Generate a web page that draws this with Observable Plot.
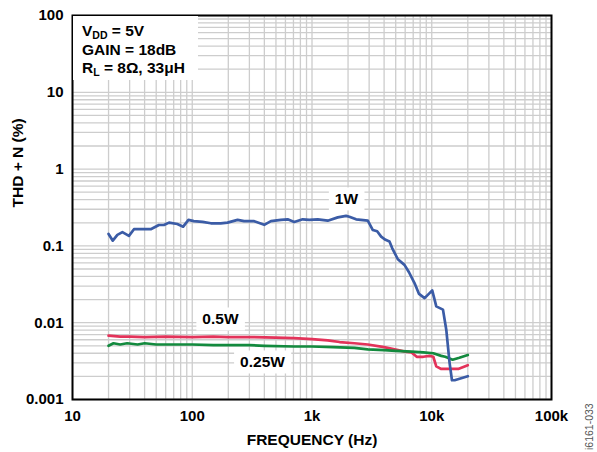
<!DOCTYPE html>
<html><head><meta charset="utf-8">
<script src="https://cdn.jsdelivr.net/npm/d3@7"></script>
<script src="https://cdn.jsdelivr.net/npm/@observablehq/plot@0.6"></script>
<style>
body{margin:0;background:#fff;}
#chart{width:597px;height:452px;}
</style></head><body><div id="chart"></div>
<script>
// ---- data ----
const freq1W = [20,21.7,23.7,26.1,29.6,32.6,45,52.7,58,64,75,84,93,103,122,143,173,197,239,271,329,399,454,550,626,711,836,949,1117,1353,1641,1926,2050,2334,2924,3221,3500,3780,4110,4436,4680,5212,5918,6456,7178,7830,8710,9590,10090,10910,12410,13220,14090,14750,15520,20000];
const thd1W  = [0.143,0.117,0.139,0.151,0.135,0.165,0.165,0.187,0.187,0.201,0.193,0.178,0.218,0.21,0.205,0.197,0.197,0.201,0.218,0.21,0.21,0.188,0.21,0.218,0.222,0.205,0.222,0.218,0.222,0.213,0.235,0.246,0.24,0.222,0.213,0.161,0.155,0.132,0.12,0.114,0.093,0.067,0.0566,0.0454,0.0328,0.0237,0.0209,0.0243,0.0263,0.0163,0.0148,0.0081,0.0030,0.00178,0.00178,0.00201];

const freqHalfW = [20,25,30,40,60,100,150,200,300,500,711,1000,1353,1700,2259,2924,4000,4887,6000,6780,7490,8500,9590,10300,10910,12000,13620,16630,20000];
const thdHalfW  = [0.0068,0.0066,0.0066,0.0065,0.0066,0.0065,0.0066,0.0065,0.0065,0.0064,0.0063,0.0061,0.0059,0.0056,0.0054,0.0052,0.0048,0.0045,0.0042,0.0041,0.0036,0.0036,0.0037,0.0036,0.0027,0.0025,0.0025,0.0025,0.0028];

const freqQuarterW = [20,22,25,28.6,35,40,50,70,100,150,200,300,400,711,1000,1500,2259,2924,4000,5000,6780,8500,10300,12000,12970,14930,17000,20000];
const thdQuarterW  = [0.0050,0.0054,0.0052,0.0054,0.0052,0.0054,0.0052,0.0052,0.0052,0.0051,0.0051,0.0051,0.0050,0.0049,0.0049,0.0048,0.0047,0.0045,0.0044,0.0043,0.0042,0.0041,0.0040,0.0037,0.0036,0.0033,0.0035,0.0038];

const seriesNames  = ["1W","0.5W","0.25W"];
const seriesColors = ["#3b5ca6","#e3335a","#138a3e"];
const labelFreq = [1941,172,386];
const labelThd  = [0.402,0.0110,0.00303];

const xTicks = [10,100,1000,10000,100000];
const xTickLabels = ["10","100","1k","10k","100k"];
const yTicks = [0.001,0.01,0.1,1,10,100];
const yTickLabels = ["0.001","0.01","0.1","1","10","100"];
const xTitle = "FREQUENCY (Hz)";
const yTitle = "THD + N (%)";
const figId = "i6161-033";

// ---- build table ----
const rows = [
  ...freq1W.map((f,i)=>({f, v:thd1W[i], s:seriesNames[0]})),
  ...freqHalfW.map((f,i)=>({f, v:thdHalfW[i], s:seriesNames[1]})),
  ...freqQuarterW.map((f,i)=>({f, v:thdQuarterW[i], s:seriesNames[2]}))
];
const labels = seriesNames.map((s,i)=>({s, f:labelFreq[i], v:labelThd[i]}));

// minor grid positions (1..9 per decade)
const gridX = [], gridY = [];
for (let e=1;e<5;e++) for (let k=1;k<10;k++) gridX.push(k*10**e);
gridX.push(1e5);
for (let e=-3;e<2;e++) for (let k=1;k<10;k++) gridY.push(k*10**e);
gridY.push(100);

const FONT = "'Liberation Sans', Arial, Helvetica, sans-serif";
const plot = Plot.plot({
  width:597, height:452,
  marginLeft:72, marginRight:46, marginTop:15, marginBottom:53,
  style:{fontFamily:FONT, fontSize:"15px", fontWeight:"bold", color:"#000", background:"#fff", overflow:"visible"},
  x:{type:"log", domain:[10,1e5], ticks:xTicks, tickFormat:d=>xTickLabels[xTicks.indexOf(d)], tickSize:0, tickPadding:11, label:null},
  y:{type:"log", domain:[0.001,100], ticks:yTicks, tickFormat:d=>yTickLabels[yTicks.findIndex(t=>Math.abs(t-d)/t<1e-6)], tickSize:0, tickPadding:9, label:null},
  color:{domain:seriesNames, range:seriesColors},
  marks:[
    Plot.ruleX(gridX, {stroke:"#cdcdcd", strokeWidth:1.3}),
    Plot.ruleY(gridY, {stroke:"#cdcdcd", strokeWidth:1.3}),
    Plot.line(rows.filter(d=>d.s!==seriesNames[0]), {x:"f", y:"v", z:"s", stroke:"s", strokeWidth:2.7, curve:"linear"}),
    Plot.line(rows.filter(d=>d.s===seriesNames[0]), {x:"f", y:"v", z:"s", stroke:"s", strokeWidth:2.7, curve:"linear"}),
    Plot.frame({stroke:"#000", strokeWidth:2}),
    Plot.text(labels, {x:"f", y:"v", text:"s", fontSize:15.5, fontWeight:"bold", fill:"#000"}),
    Plot.text([xTitle], {frameAnchor:"bottom", dy:45, fontSize:15.5, fontWeight:"bold", fill:"#000"}),
    Plot.text([yTitle], {frameAnchor:"left", dx:-54.5, rotate:-90, fontSize:15.5, fontWeight:"bold", fill:"#000"})
  ]
});
document.getElementById("chart").appendChild(plot);

const svg = d3.select(plot);
const NS = "http://www.w3.org/2000/svg";
// white boxes behind the series labels
svg.selectAll("text").filter(function(){ return seriesNames.includes(this.textContent); }).each(function(){
  const bb = this.getBBox();
  const padX = 6, padY = 3;
  const p = this.parentNode;
  const g = document.createElementNS(NS,"g");
  if (p.getAttribute("transform")) g.setAttribute("transform", p.getAttribute("transform"));
  ["font-size","font-weight","font-family","fill","text-anchor"].forEach(a=>{ if(p.getAttribute(a)) g.setAttribute(a,p.getAttribute(a)); });
  const inner = document.createElementNS(NS,"g");
  if (this.getAttribute("transform")) inner.setAttribute("transform", this.getAttribute("transform"));
  const r = document.createElementNS(NS,"rect");
  r.setAttribute("x", bb.x-padX); r.setAttribute("y", bb.y-padY);
  r.setAttribute("width", bb.width+2*padX); r.setAttribute("height", bb.height+2*padY);
  r.setAttribute("fill","#fff");
  const clone = this.cloneNode(true);
  clone.removeAttribute("transform");
  inner.appendChild(r);
  inner.appendChild(clone);
  g.appendChild(inner);
  plot.appendChild(g);
  this.remove();
});

// condition box top-left
svg.append("rect").attr("x",73).attr("y",16).attr("width",125).attr("height",64).attr("fill","#fff");
const ann = svg.append("text").attr("font-family",FONT).attr("font-weight","bold").attr("font-size",15.5)
  .attr("fill","#000").attr("text-anchor","start");
const l1 = ann.append("tspan").attr("x",82).attr("y",36);
l1.append("tspan").text("V");
l1.append("tspan").attr("font-size",10.5).attr("dy",3).text("DD");
l1.append("tspan").attr("dy",-3).text(" = 5V");
ann.append("tspan").attr("x",82).attr("y",55).text("GAIN = 18dB");
const l3 = ann.append("tspan").attr("x",82).attr("y",73);
l3.append("tspan").text("R");
l3.append("tspan").attr("font-size",10.5).attr("dy",3).text("L");
l3.append("tspan").attr("dy",-3).text(" = 8Ω, 33μH");

// figure id
svg.append("text").attr("transform","translate(593,450) rotate(-90)").attr("font-family",FONT)
  .attr("text-anchor","start").attr("font-size",10.5).attr("font-weight","normal").attr("fill","#555").text(figId);
</script>
</body></html>
